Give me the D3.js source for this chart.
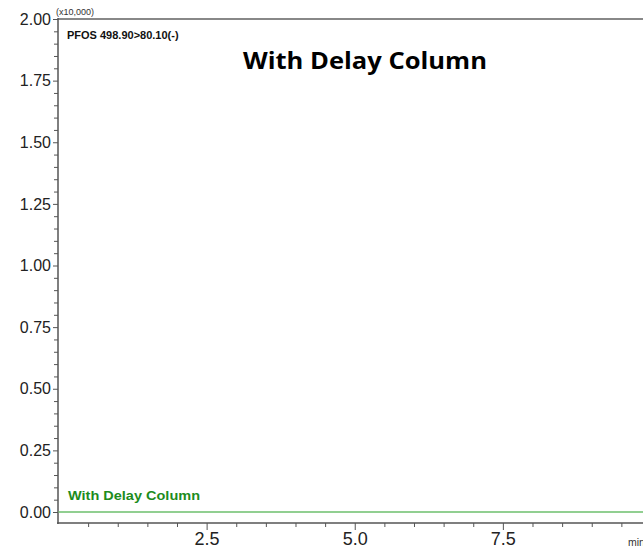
<!DOCTYPE html>
<html><head><meta charset="utf-8">
<script src="https://cdn.jsdelivr.net/npm/d3@7"></script>
<style>body{margin:0;background:#fff}svg{display:block}</style>
</head><body>
<script>
// Data
const times = [0.0, 1.0, 2.0, 3.0, 4.0, 5.0, 6.0, 7.0, 8.0, 9.0, 9.9];
const intensity = [0, 0, 0, 0, 0, 0, 0, 0, 0, 0, 0]; // x10,000
const yMajorTicks = [0, 0.25, 0.5, 0.75, 1.0, 1.25, 1.5, 1.75, 2.0];
const xMajorTicks = [2.5, 5.0, 7.5];
const traceLabel = "PFOS 498.90>80.10(-)";
const seriesLabel = "With Delay Column";
const title = "With Delay Column";

const W = 643, H = 552;
const svg = d3.select("body").append("svg").attr("width", W).attr("height", H);
const x = d3.scaleLinear().domain([0, 9.865]).range([58.5, 643]);
const y = d3.scaleLinear().domain([0, 2]).range([512, 19]);
const axisY = 523;
const font = "'Liberation Sans', Arial, sans-serif";

// top frame
svg.append("line").attr("x1", 58).attr("x2", W).attr("y1", 19).attr("y2", 19)
  .attr("stroke", "#888").attr("stroke-width", 2);

// x axis
const xMinor = d3.range(0.5, 9.9, 0.5).filter(v => !xMajorTicks.some(m => Math.abs(m - v) < 1e-6));
const gx = svg.append("g").attr("transform", `translate(0,${axisY})`);
gx.call(d3.axisBottom(x).tickValues(xMinor).tickSize(4).tickFormat(""));
gx.call(g => g.select(".domain").remove());
const gx2 = svg.append("g").attr("transform", `translate(0,${axisY})`);
gx2.call(d3.axisBottom(x).tickValues(xMajorTicks).tickSize(7).tickPadding(2).tickFormat(d3.format(".1f")));
gx2.select(".domain").remove();
svg.append("line").attr("x1", 57).attr("x2", W).attr("y1", axisY).attr("y2", axisY)
  .attr("stroke", "#555").attr("stroke-width", 1.5);
svg.selectAll("g.tick line").attr("stroke", "#555");
gx2.selectAll("text").attr("font-family", font).attr("font-size", 18).attr("fill", "#222");

// y axis
const yMinor = d3.range(0.05, 2.0, 0.05).filter(v => !yMajorTicks.some(m => Math.abs(m - v) < 1e-6));
const gy = svg.append("g").attr("transform", `translate(58,0)`);
gy.call(d3.axisLeft(y).tickValues(yMinor).tickSize(4).tickFormat(""));
gy.select(".domain").remove();
const gy2 = svg.append("g").attr("transform", `translate(58,0)`);
gy2.call(d3.axisLeft(y).tickValues(yMajorTicks).tickSize(5).tickPadding(2).tickFormat(d3.format(".2f")));
gy2.select(".domain").remove();
svg.append("line").attr("x1", 58).attr("x2", 58).attr("y1", 18).attr("y2", axisY + 1)
  .attr("stroke", "#555").attr("stroke-width", 1.5);
svg.selectAll("g.tick line").attr("stroke", "#555");
gy2.selectAll("text").attr("font-family", font).attr("font-size", 16).attr("fill", "#222");

// multiplier
svg.append("text").attr("x", 56).attr("y", 15).attr("font-family", font).attr("font-size", 9)
  .attr("fill", "#333").text("(x10,000)");

// x unit (cut off)
svg.append("text").attr("x", 628).attr("y", 546).attr("font-family", font).attr("font-size", 10.5)
  .attr("fill", "#333").text("min");

// trace line
const line = d3.line().x((d, i) => x(times[i])).y(d => y(d));
svg.append("path").datum(intensity).attr("d", line)
  .attr("fill", "none").attr("stroke", "#6cbf6c").attr("stroke-width", 1.5);

// labels
svg.append("text").attr("x", 67).attr("y", 39).attr("font-family", font).attr("font-weight", "bold")
  .attr("font-size", 11).attr("fill", "#111").text(traceLabel);
svg.append("text").attr("x", 68).attr("y", 500).attr("font-family", font).attr("font-weight", "bold")
  .attr("font-size", 12).attr("fill", "#1d8c1d").attr("textLength", 132).attr("lengthAdjust", "spacingAndGlyphs").text(seriesLabel);
svg.append("text").attr("x", 243).attr("y", 69).attr("font-family", "'Open Sans', 'Noto Sans', sans-serif").attr("font-weight", "bold")
  .attr("font-size", 23).attr("fill", "#000").attr("textLength", 244).attr("lengthAdjust", "spacingAndGlyphs").text(title);
</script>
</body></html>
